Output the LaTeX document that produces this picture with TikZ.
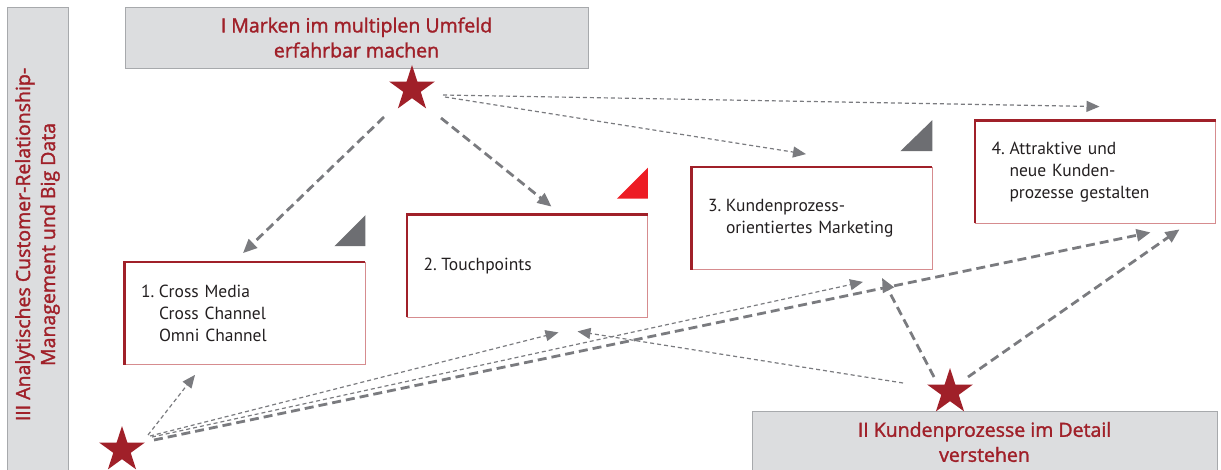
\documentclass[tikz,border=0pt]{standalone}
\usepackage{fontspec}
\usetikzlibrary{shapes.geometric,arrows.meta}
\newfontfamily\headfont{Open Sans}[FakeBold=1.6]
\newfontfamily\bodyfont{PT Sans}

\definecolor{brandred}{RGB}{160,32,41}
\definecolor{headfill}{RGB}{220,221,223}
\definecolor{headline}{RGB}{167,169,172}
\definecolor{edgelight}{RGB}{214,140,143}
\definecolor{arrowgrey}{RGB}{122,123,127}
\definecolor{trigrey}{RGB}{109,110,114}
\definecolor{signalred}{RGB}{237,28,36}
\definecolor{bodytext}{RGB}{35,31,32}

\newcommand{\itemno}[1]{\makebox[18pt][l]{#1}}
\newcommand{\contline}{\hspace*{18pt}}

\tikzset{
  headbox/.style={draw=headline, fill=headfill, line width=0.8pt, text=brandred,
    font=\headfont\fontsize{19.5}{25}\selectfont, align=center, inner sep=0pt},
  fieldbox/.style={draw=edgelight, line width=0.8pt, minimum width=240pt, minimum height=102pt,
    text width=208pt, inner xsep=16pt, align=left, text=bodytext,
    font=\bodyfont\fontsize{17.5}{22}\selectfont},
  fieldedge/.style={draw=brandred, line width=2.6pt},
  redstar/.style={star, star points=5, star point ratio=2.618, minimum size=48pt,
    inner sep=0pt, fill=brandred},
  strongarrow/.style={draw=arrowgrey, line width=2.8pt, dash pattern=on 9pt off 5pt,
    -{Triangle[length=14pt,width=12pt]}},
  lightarrow/.style={draw=arrowgrey, line width=1.2pt, dash pattern=on 4pt off 3pt,
    -{Triangle[length=13pt,width=11pt]}}
}

\begin{document}
\begin{tikzpicture}[x=1pt,y=-1pt]
\useasboundingbox (0,0) rectangle (1221,470);

% Grey header bars
\node[headbox, rotate=90, minimum width=475pt, minimum height=61pt] (crm) at (37.5,244.5)
  {III Analytisches Customer-Relationship-\\Management und Big Data};
\node[headbox, minimum width=463pt, minimum height=61pt] (brand) at (356.5,37.5)
  {I Marken im multiplen Umfeld\\erfahrbar machen};
\node[headbox, minimum width=465pt, minimum height=62pt] (detail) at (984.5,442)
  {II Kundenprozesse im Detail\\verstehen};

% Fields
\node[fieldbox] (cross) at (245,313.5)
  {\itemno{1.}Cross Media\\\contline Cross Channel\\\contline Omni Channel};
\node[fieldbox] (touch) at (527.5,266) {\itemno{2.}Touchpoints};
\node[fieldbox] (market) at (812,218.5)
  {\itemno{3.}Kundenprozess-\\\contline orientiertes Marketing};
\node[fieldbox] (design) at (1095.5,172)
  {\itemno{4.}Attraktive und\\\contline neue Kunden-\\\contline prozesse gestalten};
\draw[fieldedge] (cross.south west) -- (cross.north west) -- (cross.north east);
\draw[fieldedge] (touch.south west) -- (touch.north west) -- (touch.north east);
\draw[fieldedge] (market.south west) -- (market.north west) -- (market.north east);
\draw[fieldedge] (design.south west) -- (design.north west) -- (design.north east);

% Corner triangles
\fill[trigrey] ([yshift=16pt]cross.north east) -- ++(-31,0) -- ++(31,-31) -- cycle;
\fill[signalred] ([yshift=16pt]touch.north east) -- ++(-31,0) -- ++(31,-31) -- cycle;
\fill[trigrey] ([yshift=16pt]market.north east) -- ++(-32,0) -- ++(32,-31) -- cycle;

% Stars
\node[redstar] (s1) at (412,89) {};
\node[redstar] (s2) at (950,392) {};
\node[redstar] (s3) at (122,450) {};

% Arrows from I
\draw[strongarrow] ([xshift=-28pt,yshift=-28pt]s1.center) -- ([xshift=-2pt,yshift=9pt]cross.north);
\draw[strongarrow] ([xshift=29pt,yshift=-29pt]s1.center) -- ([xshift=24pt,yshift=8pt]touch.north);
\draw[lightarrow] ([xshift=33pt,yshift=-8pt]s1.center) -- ([xshift=-6pt,yshift=13pt]market.north);
\draw[lightarrow] ([xshift=31pt,yshift=-6pt]s1.center) -- ([xshift=4pt,yshift=14pt]design.north);

% Arrows from II
\draw[strongarrow] ([xshift=-16pt,yshift=15pt]s2.center) -- ([xshift=70pt,yshift=-8pt]market.south);
\draw[strongarrow] ([xshift=18pt,yshift=15pt]s2.center) -- ([xshift=84pt,yshift=-6pt]design.south);
\draw[lightarrow] ([xshift=-47pt,yshift=9pt]s2.center) -- ([xshift=50pt,yshift=-14pt]touch.south);

% Arrows from III
\draw[lightarrow] ([xshift=26pt,yshift=15pt]s3.center) -- ([xshift=-50pt,yshift=-10pt]cross.south);
\draw[lightarrow] ([xshift=28pt,yshift=14pt]s3.center) -- ([xshift=31pt,yshift=-15pt]touch.south);
\draw[lightarrow] ([xshift=30pt,yshift=13pt]s3.center) -- ([xshift=51pt,yshift=-12pt]market.south);
\draw[strongarrow] ([xshift=32pt,yshift=10pt]s3.center) -- ([xshift=55pt,yshift=-9pt]design.south);
\end{tikzpicture}
\end{document}
